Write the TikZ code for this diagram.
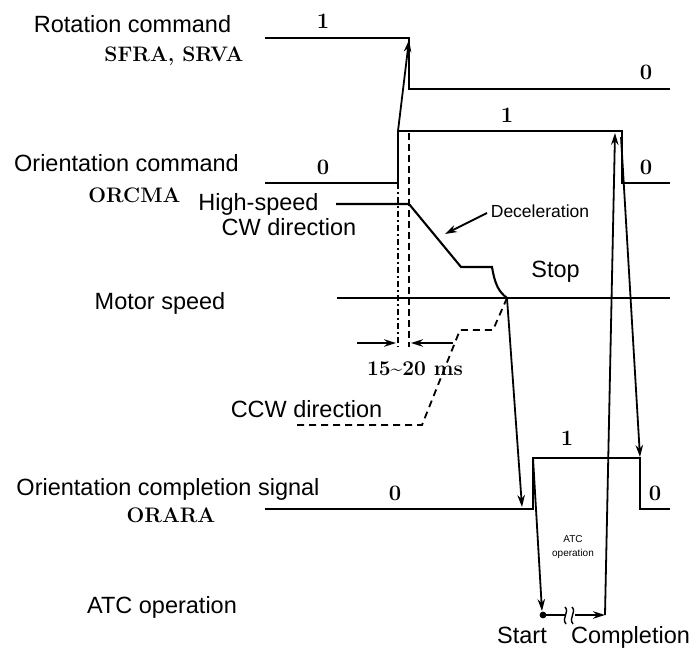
\documentclass[tikz,border=0pt]{standalone}
\usepackage{fontspec}
\setsansfont{Liberation Sans}
\usetikzlibrary{arrows.meta}
\begin{document}
\begin{tikzpicture}[x=1pt,y=-1pt,line join=miter,
  lab/.style={font=\sffamily\fontsize{23.5}{28}\selectfont,inner sep=0pt,anchor=base},
  sig/.style={font=\rmfamily\bfseries\fontsize{21}{24}\selectfont,inner sep=0pt,anchor=base},
  num/.style={font=\rmfamily\bfseries\fontsize{22}{24}\selectfont,inner sep=0pt,anchor=base},
  small/.style={font=\sffamily\fontsize{17.5}{20}\selectfont,inner sep=0pt,anchor=base},
  tiny/.style={font=\sffamily\fontsize{10}{12}\selectfont,inner sep=0pt,anchor=base},
  wave/.style={line width=2.1pt},
  arr/.style={line width=1.8pt,-{Stealth[length=12pt,width=7.5pt]}},
  guide/.style={line width=1.8pt,dash pattern=on 7pt off 4pt},
  guidedot/.style={line width=1.8pt,dash pattern=on 6pt off 3pt on 2pt off 3pt},
  ccw/.style={line width=1.8pt,dash pattern=on 7pt off 5pt}]
\useasboundingbox (0,0) rectangle (697,650);
% ---- coordinates
\coordinate (r0) at (265,38); \coordinate (r1) at (409,38);
\coordinate (r2) at (409,89); \coordinate (r3) at (670,89);
\coordinate (o0) at (265,183); \coordinate (o1) at (398,183);
\coordinate (o2) at (398,131); \coordinate (o3) at (622,131);
\coordinate (o4) at (622,183); \coordinate (o5) at (670,183);
\coordinate (m0) at (337,298); \coordinate (m1) at (670,298);
\coordinate (s0) at (336,204); \coordinate (s1) at (409,204);
\coordinate (s2) at (461,267); \coordinate (s3) at (492,267);
\coordinate (s4) at (507,298);
\coordinate (c1) at (493,330); \coordinate (c2) at (460,330);
\coordinate (c3) at (422,425); \coordinate (c4) at (297,425);
\coordinate (a0) at (265,509); \coordinate (a1) at (533,509);
\coordinate (a2) at (533,458); \coordinate (a3) at (640,458);
\coordinate (a4) at (640,509); \coordinate (a5) at (670,509);
\coordinate (g1t) at (398,183); \coordinate (g1b) at (398,347);
\coordinate (g2t) at (409,133); \coordinate (g2b) at (409,347);
\coordinate (t0) at (357,343); \coordinate (t1) at (396,343);
\coordinate (t2) at (453,343); \coordinate (t3) at (411,343);
\coordinate (st) at (543,615); \coordinate (sta) at (542,611);
\coordinate (cp) at (605,615);
\coordinate (b1) at (565,615); \coordinate (b2) at (575,615);
\coordinate (rt) at (409,40);
\coordinate (ot) at (615,133);
\coordinate (of) at (621,137); \coordinate (af) at (640,457);
\coordinate (ma) at (522,507);
\coordinate (d0) at (487,213); \coordinate (d1) at (445,234);
% ---- waveforms
\draw[wave] (r0) -- (r1) -- (r2) -- (r3);
\draw[wave] (o0) -- (o1) -- (o2) -- (o3) -- (o4) -- (o5);
\draw[wave] (m0) -- (m1);
\draw[wave] (s0) -- (s1) -- (s2) -- (s3) .. controls (495,285) and (499,292) .. (s4);
\draw[ccw] (s4) -- (c1) -- (c2) -- (c3) -- (c4);
\draw[wave] (a0) -- (a1) -- (a2) -- (a3) -- (a4) -- (a5);
\draw[guidedot] (g1t) -- (g1b);
\draw[guide] (g2t) -- (g2b);
% ---- arrows
\draw[arr] (o2) -- (rt);
\draw[arr] (t0) -- (t1);
\draw[arr] (t2) -- (t3);
\draw[arr] (d0) -- (d1);
\draw[arr] (s4) -- (ma);
\draw[arr] (a2) -- (sta);
\fill (st) circle (3.4pt);
\draw[wave] (st) -- (b1);
\draw[arr] (b2) -- (cp);
\draw[line width=1.4pt] (565,607) .. controls (570,612) and (561,618) .. (566,624);
\draw[line width=1.4pt] (572,607) .. controls (577,612) and (568,618) .. (573,624);
\draw[arr] (cp) -- (ot);
\draw[arr] (of) -- (af);
% ---- labels
\node[lab] (lrot) at (132.5,33) {Rotation command};
\node[sig] (lsf) at (174,62) {SFRA, SRVA};
\node[lab] (lori) at (126.5,172) {Orientation command};
\node[sig] (lorc) at (134.5,203) {ORCMA};
\node[lab] (lhs) at (258.5,211) {High-speed};
\node[lab] (lcw) at (289,236) {CW direction};
\node[lab] (lmot) at (160,309) {Motor speed};
\node[lab] (lccw) at (306.5,417) {CCW direction};
\node[lab] (locs) at (168,495) {Orientation completion signal};
\node[sig] (lora) at (171,522) {ORARA};
\node[lab] (latc) at (162,613) {ATC operation};
\node[lab] (lst) at (522,643) {Start};
\node[lab] (lcp) at (630.5,643) {Completion};
\node[lab] (lstop) at (555.5,277) {Stop};
\node[small] (ldec) at (540,218) {Deceleration};
\node[tiny] (latc1) at (573,542) {ATC};
\node[tiny] (latc2) at (573,556) {operation};
\node[sig] (lms) at (415,375) {15\textasciitilde 20 ms};
\node[num] (v1) at (323,29) {1};
\node[num] (v2) at (646,80) {0};
\node[num] (v3) at (323,175) {0};
\node[num] (v4) at (507,123) {1};
\node[num] (v5) at (646,175) {0};
\node[num] (v6) at (395,500) {0};
\node[num] (v7) at (567,445) {1};
\node[num] (v8) at (655,500) {0};
\end{tikzpicture}
\end{document}
